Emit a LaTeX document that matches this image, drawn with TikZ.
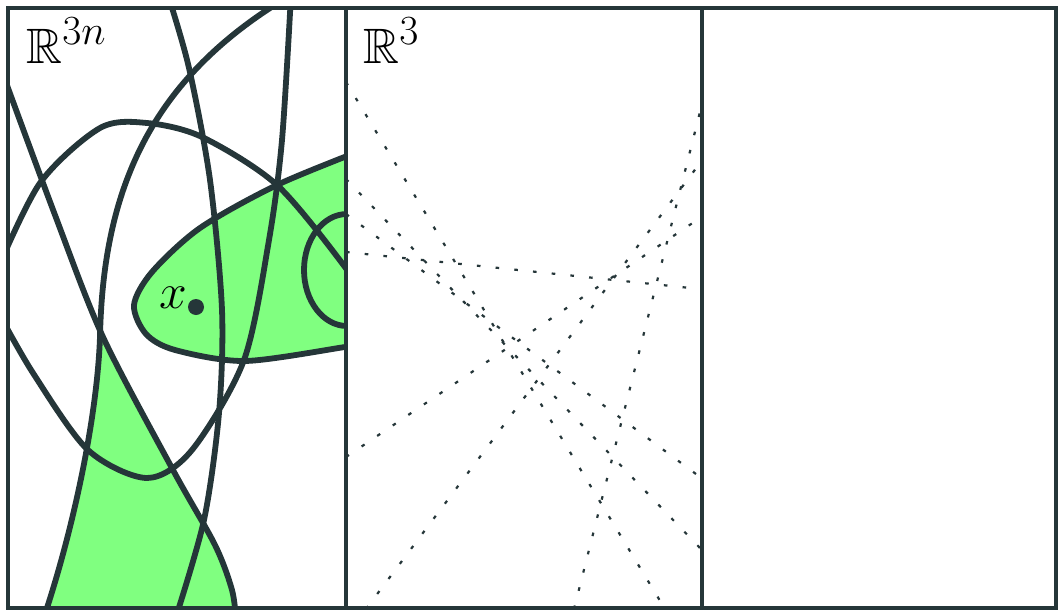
\documentclass[tikz,border=0pt]{standalone}
\usepackage{amssymb}
\definecolor{slate}{HTML}{253639}
\definecolor{blobgreen}{HTML}{80FF80}

\begin{document}
\begin{tikzpicture}[
    x=0.5pt, y=-0.5pt,
    frame/.style={draw=slate, line width=1.8pt},
    curve/.style={draw=slate, line width=2.9pt},
    region/.style={fill=blobgreen},
    ray/.style={draw=slate, line width=1.1pt, dash pattern=on 1.8pt off 7.6pt},
    spacelabel/.style={font=\Huge, inner sep=0pt, anchor=base west}
  ]
    \useasboundingbox (0,0) rectangle (1061,611);
    % left panel
    \begin{scope}
      \clip (8,8) rectangle (346,608);
      \begin{scope}
        \clip (0,336) rectangle (400,620);
        \fill[region] (286,-2) .. controls (150,80) and (103,190) .. (100,337)
          .. controls (97,420) and (72,535) .. (42,623)
          -- plot[smooth] coordinates {(236,620) (232,590) (215,545) (173,470) (103,337) (55,215) (-3,58)} -- cycle;
      \end{scope}
      \filldraw[region, curve] plot[smooth] coordinates {(365,149) (277,185) (200,228) (152,272) (134,305) (146,334) (175,350) (245,361) (345,347) (365,344)}
        -- (400,344) -- (400,149) -- cycle;
      \draw[curve] (347,270) ellipse [x radius=21.5pt, y radius=28pt];
      \draw[curve] plot[smooth] coordinates {(-3,58) (55,215) (103,337) (173,470) (215,545) (232,590) (236,620)};
      \draw[curve] (286,-2) .. controls (150,80) and (103,190) .. (100,337)
        .. controls (97,420) and (72,535) .. (42,623);
      \draw[curve] plot[smooth] coordinates {(168,-5) (189,68) (210,180) (222,310) (219,413) (204,520) (175,620)};
      \draw[curve] plot[smooth] coordinates {(-5,275) (40,183) (100,128) (147,123) (202,137) (277,185) (345,267) (360,295)};
      \draw[curve] plot[smooth] coordinates {(-3,310) (33,373) (88,450) (147,478) (192,450) (244,360) (269,240) (282,140) (291,-5)};
      \fill[slate] (196,307) circle [radius=4pt];
    \end{scope}
    \node[spacelabel] (xlabel) at (159,308) {$x$};
    \node[spacelabel] (bigspace) at (26,63) {$\mathbb{R}^{3n}$};
    % middle panel
    \begin{scope}
      \clip (346,8) rectangle (702,608);
      \draw[ray] (346,82) -- (665,609);
      \draw[ray] (346,179) -- (700,548);
      \draw[ray] (346,214) -- (700,477);
      \draw[ray] (346,252) -- (700,289);
      \draw[ray] (346,457) -- (700,218);
      \draw[ray] (366,609) -- (700,163);
      \draw[ray] (574,609) -- (700,112);
    \end{scope}
    \node[spacelabel] (smallspace) at (363,63) {$\mathbb{R}^{3}$};
    % frames
    \draw[frame] (8,8) rectangle (346,608);
    \draw[frame] (346,8) rectangle (702,608);
    \draw[frame] (702,8) rectangle (1056,608);
  \end{tikzpicture}
\end{document}
